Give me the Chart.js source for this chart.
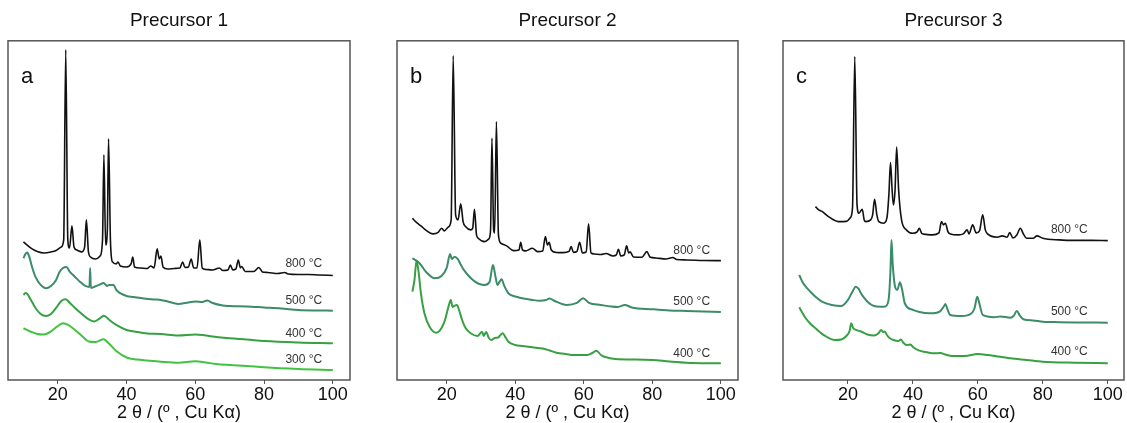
<!DOCTYPE html>
<html>
<head>
<meta charset="utf-8">
<script src="https://cdn.jsdelivr.net/npm/chart.js@4.4.1/dist/chart.umd.min.js"></script>
<style>
  body { margin: 0; background: #fff; }
  #wrap { position: relative; width: 1127px; height: 423px; overflow: hidden; }
  canvas { position: absolute; top: 0; }
</style>
</head>
<body>
<div id="wrap">
  <canvas id="chartA" width="360" height="423" style="left:0px"></canvas>
  <canvas id="chartB" width="360" height="423" style="left:387px"></canvas>
  <canvas id="chartC" width="354" height="423" style="left:773px"></canvas>
</div>
<script>
// XRD patterns, [2theta, intensity (a.u., offset stacked)]
var p1_800 = [[10,138],[11,135],[12.5,131],[14,128.5],[16,127],[18,128],[19.5,129.5],[21,133],[21.7,140],[22.3,330],[22.9,140],[23.4,132],[24.1,154],[24.7,133],[25.5,130],[27,128],[27.8,133],[28.3,160],[28.9,128],[29.5,123],[31,121],[32.3,124],[33,140],[33.4,225],[33.9,135],[34.4,150],[34.75,241],[35.3,140],[35.9,118],[37,116],[37.5,118],[38.2,114],[40,113],[41.3,116],[41.8,123],[42.3,113],[44,112],[46,111.5],[47,114],[48,112],[48.9,131],[49.5,121],[50,124],[50.6,113],[52,111],[54,111.5],[55.5,112],[56.3,118],[57,112.5],[58,113],[58.8,121],[59.5,112],[60.5,112],[61.3,140],[62,112],[63,110.5],[65,110],[67,112],[68,109.5],[69.5,110],[70.2,115],[70.9,110],[71.8,111],[72.5,120],[73.1,112],[73.5,113.5],[74.5,108.5],[77,108.5],[78.5,112.5],[79.5,108],[81,107.5],[84,106.5],[86,107.5],[87,106],[90,105.5],[93,105.5],[96,105],[100,104.5]];
var p1_500 = [[10,121.7],[10.6,126],[11.1,127.5],[11.7,123],[12.5,113],[13.5,103],[15,95],[16.5,91.7],[18,94],[19.5,100],[20.5,108],[21.5,112],[22.5,113],[23.5,108],[25,103],[26.5,98],[28,94],[29.2,93],[29.4,112],[29.6,92],[30.5,93],[32,95],[33.3,97],[34.3,94],[35,95],[36.2,95],[37,90],[38,87],[40,84],[42,83],[45,81.5],[48,80.5],[50,80],[52,78.5],[55,76],[58,77.5],[60,78.5],[62,78],[63.5,79.5],[65,77],[68,74.5],[70,74],[75,73.5],[80,72.5],[85,71.5],[90,70],[95,69.5],[100,69.3]];
var p1_400 = [[10,85],[10.6,87],[11.1,86],[12,81],[13.5,72],[15,66],[16.5,64],[18,66],[19.5,72],[21,79],[22.3,80.7],[23.5,77],[25,72],[27,66],[29,60.5],[30.5,58.5],[32,61],[33.4,64.3],[35,60],[37,55],[40,50],[43,48],[46,46.5],[50,46],[55,44.5],[60,45.5],[62,45],[65,43.5],[70,41.7],[75,40.5],[80,39],[90,37.5],[100,36.7]];
var p1_300 = [[10,51.7],[12,48.5],[14,46],[16,45.5],[18,48.5],[20,54],[21.5,56.7],[23,55],[25,50],[27,44],[29,38.5],[31,38],[33.3,40.7],[35,36],[37,29],[40,22.5],[43,20.5],[46,19.5],[50,18.3],[55,17.3],[60,18.8],[63,17.5],[66,16],[70,15],[75,14],[80,12.7],[90,11],[100,10]];

var p2_800 = [[10,161.7],[11,158],[12.5,154],[14,149.5],[16,146],[17.5,147.5],[18.5,151.7],[19.3,149],[20.5,153],[21.3,160],[21.9,324],[22.6,165],[23.3,160],[24.1,176],[24.8,158],[25.5,153.3],[27,150],[27.6,152],[28.1,170.7],[28.7,145],[29.2,141.7],[31,138.3],[32.3,141],[32.8,150],[33.2,241.7],[33.7,150],[34,147],[34.5,258.3],[35.1,145],[35.8,136.7],[37.5,134],[39.5,129.3],[41.1,130],[41.6,137.7],[42.1,130],[43,129],[45,131.7],[46.5,128.3],[48,129],[48.8,143.3],[49.4,135],[49.9,137.7],[50.5,130],[52,127.5],[54,127.3],[55.7,128.5],[56.3,133.3],[57,127.5],[58,128.5],[58.8,137.7],[59.6,127],[60.7,128],[61.4,156],[62.1,127],[63,126],[65,125.5],[66.5,126.5],[68.5,124],[69.5,125],[70.1,130.7],[70.8,124],[71.8,125],[72.5,134],[73.1,127],[73.5,128],[74.5,123],[77,122.7],[78.4,128.3],[79.3,123],[81,122],[84,121],[86,122.5],[87,120.5],[90,120],[95,119.5],[100,119.3]];
var p2_500 = [[10,121.7],[12,117],[14,108],[16.5,101.7],[18.5,104],[20,112],[21,126],[21.5,121],[22.3,123.3],[23.2,121],[24,116],[25,110],[27,102],[29,96.7],[31,95],[32.5,98],[33.5,115],[34.2,104],[34.8,95],[35.4,98],[36,100.7],[36.8,94],[38,86.7],[40,83.5],[42,81.7],[45,80],[47,79.3],[49,80],[50,81.5],[51.5,79],[55,75],[58,77],[59.8,81.7],[61.5,77],[65,75],[68,73.5],[70,73],[72,75],[74,72.5],[80,70.7],[85,69.5],[90,69],[95,68.5],[100,68]];
var p2_400 = [[10,88.3],[10.6,100],[11.2,119.3],[11.8,108],[12.5,86],[13.5,66.7],[15,53.3],[17,47.3],[18.5,52],[19.5,60],[20.5,73],[21.2,80],[21.7,73],[22.2,74],[23,75],[23.6,70],[24.5,60],[25.5,52],[27,46.7],[29,44],[30.3,48.3],[30.8,44],[31.5,48],[32.3,42],[33,40],[34,42],[35,42.5],[36.3,46.7],[37.3,42],[38,38.3],[40,35],[42,34],[45,32.7],[48,31.5],[50,29.5],[52,27.3],[55,25.8],[57,25],[61,25],[62.5,27],[63.7,29.3],[65,25],[66,23.3],[70,20.7],[75,20.5],[80,20],[85,18.5],[90,17.3],[100,16.7]];

var p3_800 = [[10,173.3],[11,170],[12,168.5],[14,163.3],[17,158.3],[19.5,158.5],[20.7,162],[21.4,172],[22.1,323.3],[22.8,175],[23.4,166.7],[24.4,170.7],[25,160],[25.5,158.3],[27,160],[27.6,165],[28.2,180.7],[28.9,165],[29.5,158.3],[31,156.7],[32,162],[32.6,185],[33.1,217.3],[33.6,190],[34,175],[34.5,190],[35,232.7],[35.6,190],[36.5,160],[38,150],[40,146.7],[41.3,148],[42,151.7],[42.7,146.5],[44,145.5],[46,145],[48,147],[48.8,158.3],[49.4,155],[50,156.7],[50.8,148],[51.5,146],[54,145],[55.5,146],[56.7,150],[57.3,146],[58.4,155],[59.5,147],[60.5,149],[61.5,165],[62.3,150],[63,146],[66,142.7],[67.5,144],[69,142.7],[69.8,147.3],[70.8,142],[72,145],[73.1,151.7],[74,146],[75,141.7],[77,141.7],[78.2,144],[80,141.7],[85,140],[90,139.5],[95,139.5],[100,139.3]];
var p3_500 = [[5,105],[6,98],[7,93.3],[8.5,88],[10,83.3],[12,78.3],[15,75],[18,74],[20,80],[21.5,89],[22.4,93.3],[23.3,91],[24,86.7],[25,82],[26,78.3],[28,74],[30,73.3],[31.5,73.5],[32.5,80],[33.1,110],[33.4,140],[33.8,115],[34.5,93.3],[35.2,90],[36,97.7],[36.7,90],[37.5,76.7],[40,70],[42,68],[45,66.7],[47,67],[48.5,69],[49.6,74],[50,76],[50.6,71],[51.5,65],[55,64],[58,66.5],[59,72],[59.8,83.3],[60.5,76],[61.5,65],[65,62.7],[67,63.5],[70,62.3],[71,64],[72,69],[73,64],[74,60.7],[77,59.5],[80,58.3],[85,57.8],[90,57.5],[100,57.3]];
var p3_400 = [[5,72.7],[6,67],[7,61.7],[8.5,56],[10,51.7],[13,44],[16,40],[18,40.5],[19.5,44],[20.5,49],[21,56.7],[21.6,52],[22.5,50],[24,48.5],[26,45.5],[28,44.5],[29.5,47],[30.2,50],[30.8,48],[31.3,48.5],[32,45],[32.8,42],[34,40],[35.5,39],[36.3,40.5],[37,37.5],[38,35],[39.3,35.5],[40,33],[42,29.3],[44,28],[46,26.7],[48.5,27],[50,25.5],[52,24],[56,24],[60,26],[63,25],[66,23.5],[70,21.7],[75,20],[80,18.3],[90,17.3],[100,16.7]];

var xTicks = [20, 40, 60, 80, 100];
var FONT = "'Liberation Sans', Arial, sans-serif";
var colors = { "800": "#111111", "500": "#3b8c68", "400": "#37a043", "300": "#40c440" };

function toXY(arr) {
    return arr.map(function (p) { return { x: p[0], y: p[1] }; });
}

// frame, panel letter, temperature labels
var decor = {
    id: 'decor',
    afterDatasetsDraw: function (chart, args, opts) {
        var ctx = chart.ctx, a = chart.chartArea;
        var xs = chart.scales.x, ys = chart.scales.y;
        ctx.save();
        ctx.strokeStyle = '#555';
        ctx.lineWidth = 1.5;
        ctx.strokeRect(a.left, a.top, a.right - a.left, a.bottom - a.top);
        ctx.fillStyle = '#111';
        ctx.font = '22px ' + FONT;
        ctx.textBaseline = 'alphabetic';
        ctx.fillText(opts.letter, a.left + 13, a.top + 42);
        ctx.font = '12px ' + FONT;
        ctx.fillStyle = '#333';
        ctx.textBaseline = 'middle';
        opts.labels.forEach(function (l) {
            ctx.fillText(l[0], xs.getPixelForValue(l[1]), ys.getPixelForValue(l[2]));
        });
        ctx.restore();
    }
};

function makeChart(id, title, letter, xmin, series, labels, pad) {
    var datasets = series.map(function (s) {
        return {
            label: s[0],
            data: toXY(s[1]),
            borderColor: colors[s[0]],
            borderWidth: s[0] === '800' ? 1.6 : 2,
            pointRadius: 0,
            cubicInterpolationMode: 'monotone',
            fill: false
        };
    });
    return new Chart(document.getElementById(id), {
        type: 'line',
        data: { datasets: datasets },
        options: {
            responsive: false,
            animation: false,
            layout: { padding: { left: pad[0], right: pad[1], top: 0, bottom: 0 } },
            plugins: {
                legend: { display: false },
                tooltip: { enabled: false },
                title: {
                    display: true,
                    text: title,
                    color: '#111',
                    font: { family: FONT, size: 19, weight: 'normal' },
                    padding: { top: 9, bottom: 9 }
                },
                decor: { letter: letter, labels: labels }
            },
            scales: {
                x: {
                    type: 'linear',
                    min: xmin,
                    max: 105,
                    afterBuildTicks: function (scale) {
                        scale.ticks = xTicks.map(function (v) { return { value: v }; });
                    },
                    afterFit: function (scale) { scale.height = 43; },
                    grid: { display: true, drawOnChartArea: false, drawTicks: true, tickLength: 4, color: '#555' },
                    border: { display: false },
                    ticks: { color: '#111', font: { family: FONT, size: 18 }, padding: 0, maxRotation: 0 },
                    title: {
                        display: true,
                        text: '2 θ / (º , Cu Kα)',
                        color: '#111',
                        font: { family: FONT, size: 18 },
                        padding: { top: 0, bottom: -1 }
                    }
                },
                y: { display: false, min: 0, max: 339 }
            }
        },
        plugins: [decor]
    });
}

makeChart('chartA', 'Precursor 1', 'a', 5.5,
    [['800', p1_800], ['500', p1_500], ['400', p1_400], ['300', p1_300]],
    [['800 °C', 86.2, 116], ['500 °C', 86.2, 79.3], ['400 °C', 86.2, 46], ['300 °C', 86.2, 20]],
    [8, 10]);
makeChart('chartB', 'Precursor 2', 'b', 5.5,
    [['800', p2_800], ['500', p2_500], ['400', p2_400]],
    [['800 °C', 86.1, 129.3], ['500 °C', 86.1, 78.3], ['400 °C', 86.1, 26]],
    [10, 9]);
makeChart('chartC', 'Precursor 3', 'c', 0,
    [['800', p3_800], ['500', p3_500], ['400', p3_400]],
    [['800 °C', 82.5, 150], ['500 °C', 82.5, 68.3], ['400 °C', 82.5, 28.3]],
    [10, 3]);
</script>
</body>
</html>
